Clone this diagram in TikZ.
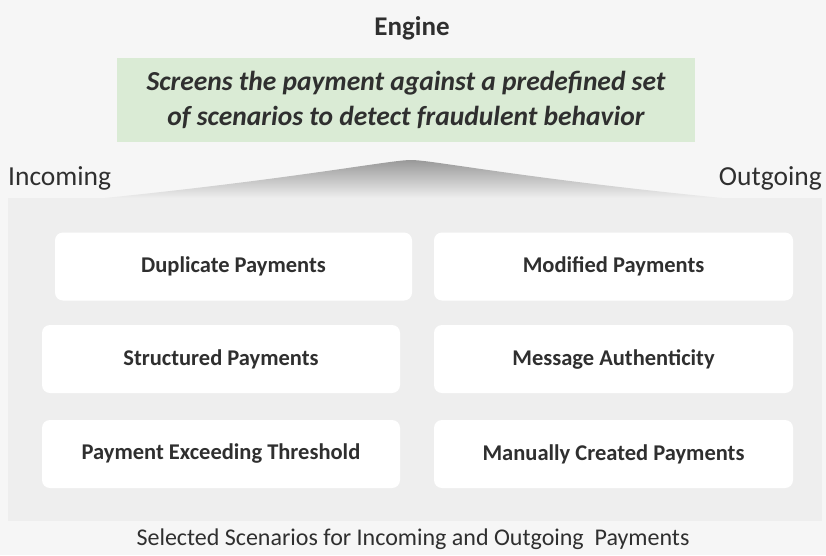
\documentclass[tikz,border=0pt]{standalone}
\usepackage{fontspec}
\setmainfont{Carlito}
\definecolor{bgc}{HTML}{F6F6F6}
\definecolor{panelc}{HTML}{EEEEEE}
\definecolor{greenc}{HTML}{DAEBD5}
\definecolor{txtc}{HTML}{2F2F2F}
\begin{document}
\begin{tikzpicture}[x=1pt,y=-1pt,
  card/.style={draw=none,fill=white,rounded corners=8pt,minimum height=68pt,text=txtc,font=\fontsize{22.5}{25}\selectfont\bfseries},
  lbl/.style={text=txtc,inner sep=0pt}]
\useasboundingbox (0,0) rectangle (826,555);
\fill[bgc] (0,0) rectangle (826,555);
\node[lbl,font=\fontsize{27}{30}\selectfont\bfseries] (engine) at (412,28) {Engine};
\node[fill=greenc,minimum width=578pt,minimum height=84pt,text=txtc,align=center,
  font=\fontsize{27.5}{35}\selectfont\bfseries\itshape] (desc) at (406,100)
  {Screens the payment against a predefined set\\of scenarios to detect fraudulent behavior};
\fill[panelc] (8,198) rectangle (822,521);
\coordinate (apex) at (411,160);
\coordinate (bl) at (105,198);
\coordinate (br) at (722,198);
\shade[top color=black!40, bottom color=panelc] (bl) .. controls (300,178) and (390,160) .. (apex) .. controls (432,160) and (520,178) .. (br) -- cycle;
\node[lbl,anchor=west,font=\fontsize{27.5}{30}\selectfont] (inc) at (8,178) {Incoming};
\node[lbl,anchor=east,font=\fontsize{27.5}{30}\selectfont] (out) at (822,178) {Outgoing};
\node[card,minimum width=357pt] (dup) at (233.5,266.5) {Duplicate Payments};
\node[card,minimum width=359pt] (mod) at (613.5,266.5) {Modified Payments};
\node[card,minimum width=358pt] (str) at (221,359) {Structured Payments};
\node[card,minimum width=359pt] (msg) at (613.5,359) {Message Authenticity};
\node[card,minimum width=358pt] (exc) at (221,454) {Payment Exceeding Threshold};
\node[card,minimum width=359pt] (man) at (613.5,454) {Manually Created Payments};
\node[lbl,font=\fontsize{24}{27}\selectfont] (cap) at (413,539) {Selected Scenarios for Incoming and Outgoing\ \ Payments};
\end{tikzpicture}
\end{document}
